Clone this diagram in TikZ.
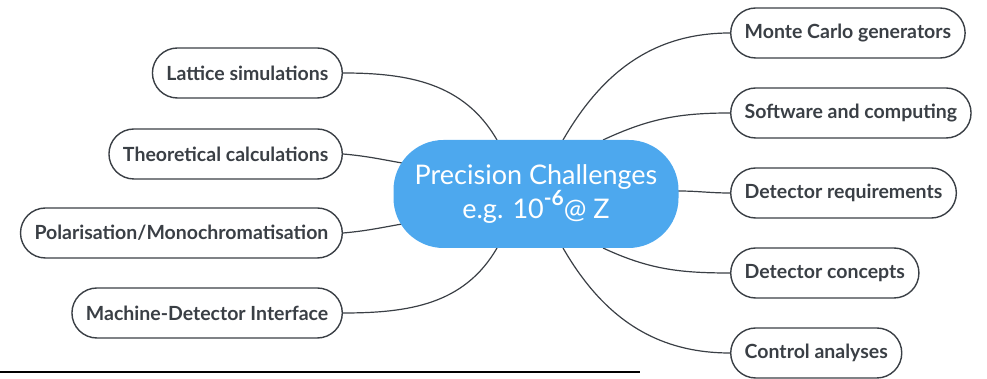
\documentclass[tikz,border=0pt]{standalone}
\usepackage{fontspec}
\setmainfont{Lato}
\usetikzlibrary{positioning}
\definecolor{hubblue}{RGB}{77,168,238}
\definecolor{inkgray}{RGB}{58,63,69}

\begin{document}
\begin{tikzpicture}[x=1pt, y=1pt]
	\tikzstyle{topic} = [draw=inkgray, line width=1.4pt, rounded corners=25pt, minimum height=50pt, inner xsep=14pt, text=inkgray, font=\fontsize{19.5}{23}\selectfont\bfseries]
	\tikzstyle{hub} = [fill=hubblue, rounded corners=50pt, minimum width=285pt, minimum height=108pt, text=white, align=center, font=\fontsize{27}{31}\selectfont]
	\tikzstyle{link} = [draw=inkgray, line width=1.2pt]
	\useasboundingbox (0,0) rectangle (987,379);

	% left topics
	\node[topic, anchor=east] (lat) at (343,306) {Lattice simulations};
	\node[topic, anchor=east] (theo) at (343,225) {Theoretical calculations};
	\node[topic, anchor=east] (pol) at (343,146) {Polarisation/Monochromatisation};
	\node[topic, anchor=east] (mdi) at (343,66) {Machine-Detector Interface};

	% right topics
	\node[topic, anchor=west] (mc) at (730,346) {Monte Carlo generators};
	\node[topic, anchor=west] (soft) at (730,266) {Software and computing};
	\node[topic, anchor=west] (req) at (730,186) {Detector requirements};
	\node[topic, anchor=west] (conc) at (730,106) {Detector concepts};
	\node[topic, anchor=west] (ctrl) at (730,26) {Control analyses};

	% where the branches meet the hub
	\coordinate (hlat) at (497,239);
	\coordinate (htheo) at (402,216);
	\coordinate (hpol) at (402,155);
	\coordinate (hmdi) at (497,131);
	\coordinate (hmc) at (563,239);
	\coordinate (hsoft) at (603,239);
	\coordinate (hreq) at (678,188);
	\coordinate (hconc) at (603,131);
	\coordinate (hctrl) at (563,131);

	\path
	(lat.east) edge[link, out=0, in=120] (hlat)
	(theo.east) edge[link, out=-5, in=170] (htheo)
	(pol.east) edge[link, out=5, in=190] (hpol)
	(mdi.east) edge[link, out=0, in=240] (hmdi)
	(mc.west) edge[link, out=180, in=60] (hmc)
	(soft.west) edge[link, out=180, in=25] (hsoft)
	(req.west) edge[link, out=180, in=0] (hreq)
	(conc.west) edge[link, out=180, in=-25] (hconc)
	(ctrl.west) edge[link, out=180, in=-60] (hctrl)
	;

	\node[hub] (hub) at (536,185) {Precision Challenges\\e.g. 10\raisebox{0.5em}{\fontsize{21}{21}\selectfont\bfseries -6}@ Z};

	\coordinate (rl) at (0,7);
	\coordinate (rr) at (640,7);
	\draw[line width=2.5pt] (rl) -- (rr);
\end{tikzpicture}
\end{document}
